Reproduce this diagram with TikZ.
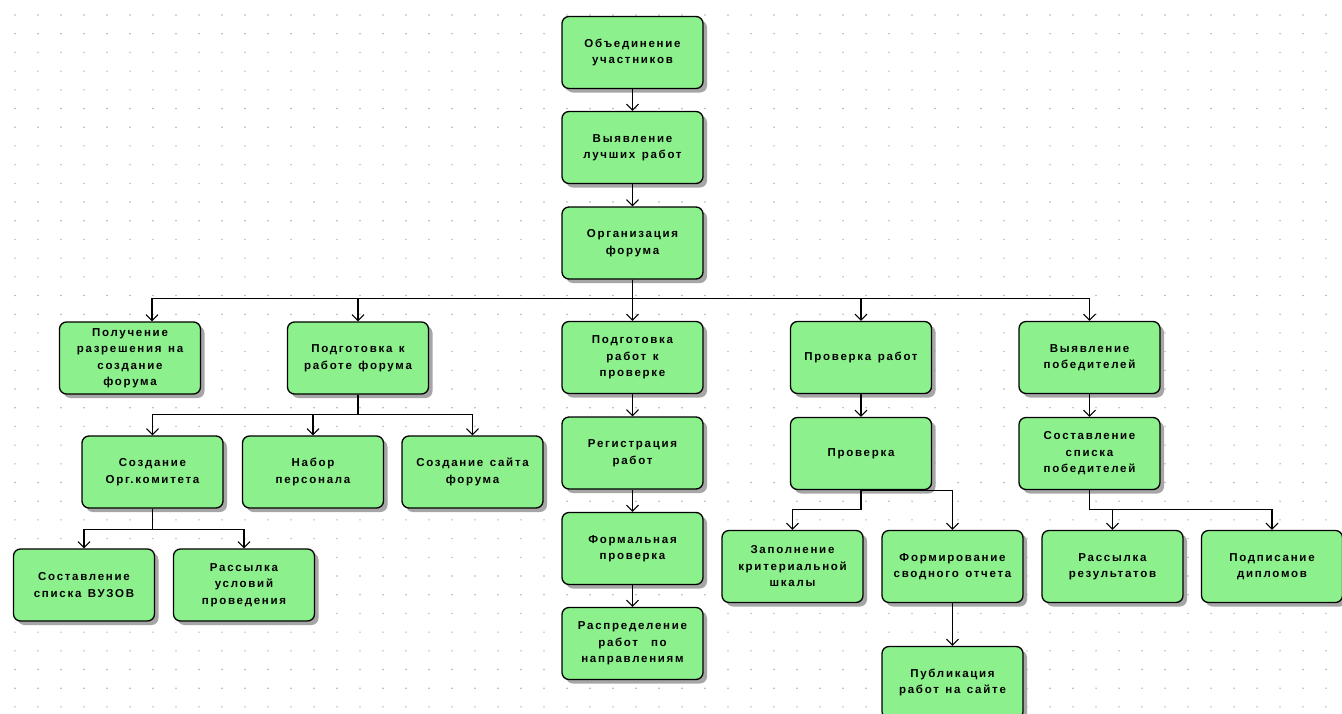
\documentclass[tikz,border=0pt]{standalone}
\usepackage{fontspec}
\newfontfamily\bx[LetterSpace=15]{Liberation Sans}
\newcommand{\wsp}{\hskip 6.5pt\relax}
\usetikzlibrary{arrows.meta,shadows}
\definecolor{boxgreen}{RGB}{140,240,140}
\definecolor{dotgray}{RGB}{175,175,175}
\tikzset{
  task/.style={draw=black, line width=1.3pt, fill=boxgreen, rounded corners=7pt,
    minimum width=141pt, minimum height=72pt, inner sep=0pt, text width=138pt,
    align=center, font=\bx\bfseries\fontsize{11.5}{16.5}\selectfont,
    drop shadow={shadow xshift=4pt, shadow yshift=-4pt, fill=black!35, opacity=1}},
  link/.style={line width=1.1pt, -{Straight Barb[length=6pt,width=12pt,line width=1.1pt]}},
}
\begin{document}
\begin{tikzpicture}[x=1pt,y=-1pt]
\useasboundingbox (0,0) rectangle (1342,713);
\fill[white] (0,0) rectangle (1342,713);
% dot grid
\foreach \i in {0,...,58}{
  \foreach \j in {0,...,37}{
    \fill[dotgray] (15+\i*23, 15+\j*18.7) circle (0.8pt);
  }
}
% top chain
\node[task] (n1) at (632.5,52.5) {Объединение\\участников};
\node[task] (n2) at (632.5,147.5) {Выявление\\лучших\wsp работ};
\node[task] (n3) at (632.5,243) {Организация\\форума};
% level 2
\node[task] (a) at (130,358) {Получение\\разрешения\wsp на\\создание\\форума};
\node[task] (b) at (358,358) {Подготовка\wsp к\\работе\wsp форума};
\node[task] (c) at (632.5,357.5) {Подготовка\\работ\wsp к\\проверке};
\node[task] (d) at (861,357.5) {Проверка\wsp работ};
\node[task] (e) at (1089.5,357.5) {Выявление\\победителей};
% level 3
\node[task] (b1) at (152.5,472) {Создание\\Орг.комитета};
\node[task] (b2) at (313,472) {Набор\\персонала};
\node[task] (b3) at (472.5,472) {Создание\wsp сайта\\форума};
\node[task] (c1) at (632.5,453) {Регистрация\\работ};
\node[task] (d1) at (861,453.5) {Проверка};
\node[task] (e1) at (1089.5,453.5) {Составление\\списка\\победителей};
% level 4
\node[task] (b11) at (84,585) {Составление\\списка\wsp ВУЗОВ};
\node[task] (b12) at (244,585) {Рассылка\\условий\\проведения};
\node[task] (c2) at (632.5,548.5) {Формальная\\проверка};
\node[task] (c3) at (632.5,643.5) {Распределение\\работ\wsp\wsp по\\направлениям};
\node[task] (d11) at (792.5,566.5) {Заполнение\\критериальной\\шкалы};
\node[task] (d12) at (952.5,566.5) {Формирование\\сводного\wsp отчета};
\node[task] (d121) at (952.5,682.5) {Публикация\\работ\wsp на\wsp сайте};
\node[task] (e11) at (1112.5,566.5) {Рассылка\\результатов};
\node[task] (e12) at (1272,566.5) {Подписание\\дипломов};
% connectors
\draw[link] (n1) -- (n2);
\draw[link] (n2) -- (n3);
\draw[link] (n3.south) -- ++(0,19) -| ([xshift=22pt]a.north);
\draw[link] (n3.south) -- ++(0,19) -| (b.north);
\draw[link] (n3.south) -- (c.north);
\draw[link] (n3.south) -- ++(0,19) -| (d.north);
\draw[link] (n3.south) -- ++(0,19) -| (e.north);
\draw[link] (b.south) -- ++(0,20) -| (b1.north);
\draw[link] (b.south) -- ++(0,20) -| (b2.north);
\draw[link] (b.south) -- ++(0,20) -| (b3.north);
\draw[link] (b1.south) -- ++(0,21) -| (b11.north);
\draw[link] (b1.south) -- ++(0,21) -| (b12.north);
\draw[link] (c) -- (c1);
\draw[link] (c1) -- (c2);
\draw[link] (c2) -- (c3);
\draw[link] (d) -- (d1);
\draw[link] (d1.south) -- ++(0,19) -| (d11.north);
\draw[link] (d1.south) -| (d12.north);
\draw[link] (d12) -- (d121);
\draw[link] (e) -- (e1);
\draw[link] (e1.south) -- ++(0,19) -| (e11.north);
\draw[link] (e1.south) -- ++(0,19) -| (e12.north);
\end{tikzpicture}
\end{document}
